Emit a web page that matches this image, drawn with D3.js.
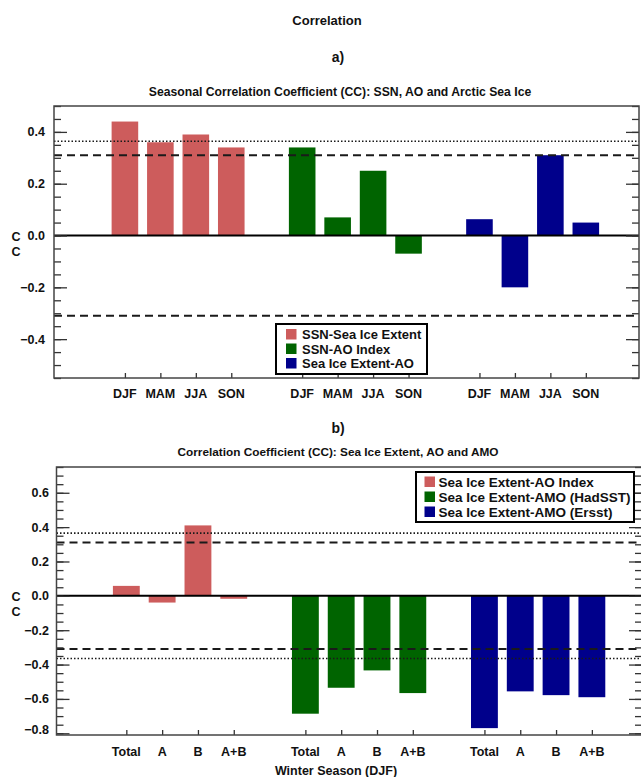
<!DOCTYPE html>
<html>
<head>
<meta charset="utf-8">
<script src="https://cdn.jsdelivr.net/npm/d3@7"></script>
<style>
  body { margin: 0; background: #fff; }
  svg text { font-family: "Liberation Sans", Arial, sans-serif; font-weight: bold; fill: #111; }
</style>
</head>
<body>
<svg id="chart" width="641" height="777"></svg>
<script>
// ---- panel a: seasonal CC ----
const seasons = ['DJF', 'MAM', 'JJA', 'SON'];
const ssnSeaIce = [0.44, 0.36, 0.39, 0.34];
const ssnAO = [0.34, 0.07, 0.25, -0.07];
const seaIceAO = [0.063, -0.20, 0.31, 0.05];
const seriesA = ['SSN-Sea Ice Extent', 'SSN-AO Index', 'Sea Ice Extent-AO'];
const yTicksA = [-0.4, -0.2, 0.0, 0.2, 0.4];
const refA = [{ v: 0.364, kind: 'dot' }, { v: 0.31, kind: 'dash' }, { v: -0.31, kind: 'dash' }];

// ---- panel b: winter CC ----
const phases = ['Total', 'A', 'B', 'A+B'];
const iceAOIndex = [0.058, -0.039, 0.41, -0.017];
const iceAMOHad = [-0.686, -0.535, -0.434, -0.566];
const iceAMOErsst = [-0.77, -0.556, -0.578, -0.59];
const seriesB = ['Sea Ice Extent-AO Index', 'Sea Ice Extent-AMO (HadSST)', 'Sea Ice Extent-AMO (Ersst)'];
const yTicksB = [-0.8, -0.6, -0.4, -0.2, 0.0, 0.2, 0.4, 0.6];
const refB = [{ v: 0.365, kind: 'dot' }, { v: 0.31, kind: 'dash' }, { v: -0.31, kind: 'dash' }, { v: -0.365, kind: 'dot' }];

const colors = ['#cd5c5c', '#006400', '#00008b'];
const groupStart = [1, 6, 11];

const svg = d3.select('#chart');

// titles
svg.append('text').attr('x', 327).attr('y', 25).attr('text-anchor', 'middle')
  .style('font-size', '13px').text('Correlation');
svg.append('text').attr('x', 338).attr('y', 62).attr('text-anchor', 'middle')
  .style('font-size', '14px').text('a)');
svg.append('text').attr('x', 340).attr('y', 96).attr('text-anchor', 'middle')
  .style('font-size', '12.2px').text('Seasonal Correlation Coefficient (CC): SSN, AO and Arctic Sea Ice');
svg.append('text').attr('x', 338).attr('y', 433).attr('text-anchor', 'middle')
  .style('font-size', '14px').text('b)');
svg.append('text').attr('x', 338).attr('y', 456).attr('text-anchor', 'middle')
  .style('font-size', '11.8px').text('Correlation Coefficient (CC): Sea Ice Extent, AO and AMO');

function drawPanel(p) {
  const x = d3.scaleLinear().domain(p.xDomain).range([p.left, p.right]);
  const y = d3.scaleLinear().domain(p.yDomain).range([p.bottom, p.top]);
  const g = svg.append('g');

  // bars
  const bars = [];
  p.values.forEach((vals, s) => {
    vals.forEach((v, i) => bars.push({ pos: groupStart[s] + i, v, s }));
  });
  const bw = (x(1) - x(0)) * 0.75;
  g.selectAll('rect.bar').data(bars).enter().append('rect')
    .attr('class', 'bar')
    .attr('x', d => x(d.pos) - bw / 2)
    .attr('width', bw)
    .attr('y', d => Math.min(y(d.v), y(0)))
    .attr('height', d => Math.abs(y(d.v) - y(0)))
    .attr('fill', d => colors[d.s]);

  // significance lines
  g.selectAll('line.ref').data(p.refs).enter().append('line')
    .attr('x1', p.left).attr('x2', p.right)
    .attr('y1', d => y(d.v)).attr('y2', d => y(d.v))
    .attr('stroke', '#1a1a1a')
    .attr('stroke-width', d => d.kind === 'dash' ? 2 : 1.6)
    .attr('stroke-dasharray', d => d.kind === 'dash' ? '8,5' : '1.5,2');

  // zero line
  g.append('line').attr('x1', p.left).attr('x2', p.right)
    .attr('y1', y(0)).attr('y2', y(0))
    .attr('stroke', '#000').attr('stroke-width', 2);

  // left / right axes, ticks inward
  const minor = d3.range(Math.ceil(p.yDomain[0] / 0.05), Math.floor(p.yDomain[1] / 0.05) + 1).map(k => k * 0.05);
  g.append('g').attr('transform', `translate(${p.left},0)`)
    .call(d3.axisRight(y).tickValues(minor).tickSize(7).tickFormat(''))
    .call(a => a.select('.domain').remove());
  g.append('g').attr('transform', `translate(${p.left},0)`)
    .call(d3.axisRight(y).tickValues(p.yTicks).tickSize(13).tickFormat(''))
    .call(a => a.select('.domain').remove());
  g.append('g').attr('transform', `translate(${p.right},0)`)
    .call(d3.axisLeft(y).tickValues(minor).tickSize(7).tickFormat(''))
    .call(a => a.select('.domain').remove());
  g.append('g').attr('transform', `translate(${p.right},0)`)
    .call(d3.axisLeft(y).tickValues(p.yTicks).tickSize(13).tickFormat(''))
    .call(a => a.select('.domain').remove());
  g.selectAll('.tick line').attr('stroke', '#333').attr('stroke-width', 1.3);

  // y tick labels
  g.selectAll('text.ylab').data(p.yTicks).enter().append('text')
    .attr('class', 'ylab')
    .attr('x', p.labelX)
    .attr('y', d => Math.min(y(d), p.bottom - 5))
    .attr('dy', '0.35em')
    .attr('text-anchor', 'end')
    .style('font-size', '12.5px')
    .text(d => d3.format('.1f')(d));

  // bottom ticks and category labels
  const cats = [];
  groupStart.forEach(s => p.categories.forEach((c, i) => cats.push({ pos: s + i, c })));
  g.append('g').attr('transform', `translate(0,${p.bottom})`)
    .call(d3.axisTop(x).tickValues(cats.map(d => d.pos)).tickSize(5).tickFormat(''))
    .call(a => a.select('.domain').remove())
    .selectAll('line').attr('stroke', '#333').attr('stroke-width', 1.3);
  g.selectAll('text.xlab').data(cats).enter().append('text')
    .attr('class', 'xlab')
    .attr('x', d => x(d.pos))
    .attr('y', p.bottom + p.xLabelOffset)
    .attr('text-anchor', 'middle')
    .style('font-size', '12.5px')
    .text(d => d.c);

  // frame
  g.append('rect').attr('x', p.left).attr('y', p.top)
    .attr('width', p.right - p.left).attr('height', p.bottom - p.top)
    .attr('fill', 'none').attr('stroke', '#444').attr('stroke-width', 1.5);

  // "C C" axis label
  ['C', 'C'].forEach((t, i) => {
    g.append('text').attr('x', 16).attr('y', y(0) + 5 + i * 15)
      .attr('text-anchor', 'middle').style('font-size', '12.5px').text(t);
  });

  // legend
  const L = p.legend;
  const lg = g.append('g');
  lg.append('rect').attr('x', L.x).attr('y', L.y).attr('width', L.w).attr('height', L.h)
    .attr('fill', '#fff').attr('stroke', '#000').attr('stroke-width', 2);
  p.series.forEach((name, i) => {
    const cy = L.row0 + i * L.gap;
    lg.append('rect').attr('x', L.sx).attr('y', cy - 5.5).attr('width', 10.5).attr('height', 10.5)
      .attr('fill', colors[i]);
    lg.append('text').attr('x', L.tx).attr('y', cy).attr('dy', '0.36em')
      .style('font-size', L.fs + 'px').text(name);
  });
}

drawPanel({
  top: 106, bottom: 378, left: 54, right: 639,
  xDomain: [-1, 15.5], yDomain: [-0.55, 0.5],
  values: [ssnSeaIce, ssnAO, seaIceAO], categories: seasons, series: seriesA,
  yTicks: yTicksA, refs: refA, labelX: 45, xLabelOffset: 19.5,
  legend: { x: 276, y: 324, w: 151, h: 50, sx: 286, tx: 302, row0: 334.5, gap: 14.5, fs: 13 }
});

drawPanel({
  top: 467, bottom: 735, left: 56.5, right: 642,
  xDomain: [-0.95, 15.4], yDomain: [-0.81, 0.75],
  values: [iceAOIndex, iceAMOHad, iceAMOErsst], categories: phases, series: seriesB,
  yTicks: yTicksB, refs: refB, labelX: 49, xLabelOffset: 21,
  legend: { x: 416, y: 472, w: 218, h: 50, sx: 424.5, tx: 438.5, row0: 482, gap: 15, fs: 13.5 }
});

svg.append('text').attr('x', 336).attr('y', 774.5).attr('text-anchor', 'middle')
  .style('font-size', '12.5px').text('Winter Season (DJF)');
</script>
</body>
</html>
